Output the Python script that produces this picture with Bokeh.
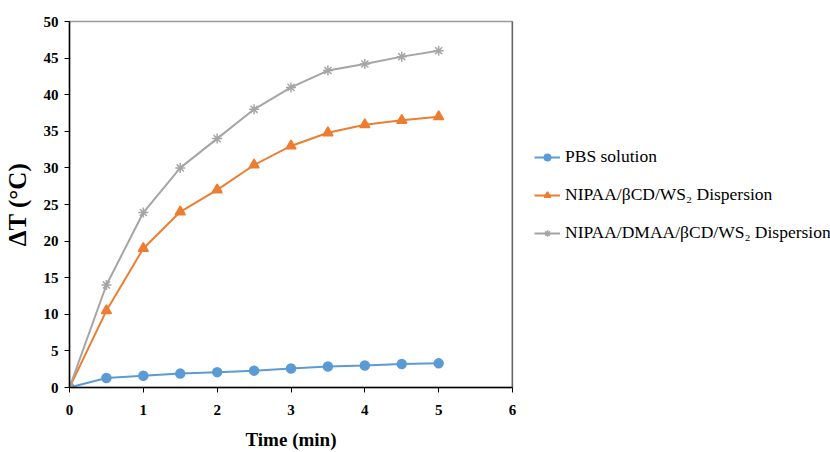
from bokeh.plotting import figure
from bokeh.models import Legend, LegendItem, Range1d, FixedTicker, Span
from bokeh.embed import file_html
from bokeh.resources import INLINE

time_min = [0, 0.5, 1, 1.5, 2, 2.5, 3, 3.5, 4, 4.5, 5]
pbs = [0, 1.3, 1.6, 1.9, 2.1, 2.3, 2.6, 2.87, 3.0, 3.2, 3.3]
nipaa = [0, 10.5, 19.0, 24.0, 27.0, 30.4, 33.0, 34.8, 35.9, 36.5, 37.0]
nipaa_dmaa = [0, 14.0, 23.9, 30.0, 34.0, 38.0, 41.0, 43.3, 44.2, 45.2, 46.0]

names = ["PBS solution", "NIPAA/βCD/WS₂ Dispersion", "NIPAA/DMAA/βCD/WS₂ Dispersion"]
colors = ["#5B9BD5", "#ED7D31", "#A5A5A5"]
x_ticks = [0, 1, 2, 3, 4, 5, 6]
y_ticks = [0, 5, 10, 15, 20, 25, 30, 35, 40, 45, 50]

FONT = "Liberation Serif"

p = figure(frame_width=443, frame_height=366, output_backend="svg", toolbar_location=None,
           x_range=Range1d(0, 6), y_range=Range1d(0, 50),
           min_border_left=63, min_border_top=21, min_border_right=5, min_border_bottom=40)
p.xgrid.visible = False
p.ygrid.visible = False
p.outline_line_color = "#9a9a9a"
p.outline_line_width = 1.5

for ax, ticks in ((p.xaxis[0], x_ticks), (p.yaxis[0], y_ticks)):
    ax.ticker = FixedTicker(ticks=ticks)
    ax.axis_line_color = "black"
    ax.axis_line_width = 1.5
    ax.major_tick_line_color = "black"
    ax.major_tick_in = 0
    ax.major_tick_out = 5
    ax.minor_tick_line_color = None
    ax.major_label_text_font = FONT
    ax.major_label_text_font_style = "bold"
    ax.major_label_text_font_size = "15px"
    ax.major_label_text_color = "black"
    ax.axis_label_text_font = FONT
    ax.axis_label_text_font_style = "bold"
    ax.axis_label_text_color = "black"

p.xaxis[0].axis_label = "Time (min)"
p.xaxis[0].axis_label_text_font_size = "19px"
p.xaxis[0].axis_label_standoff = 11
p.xaxis[0].major_label_standoff = 12
p.yaxis[0].axis_label = "ΔT (°C)"
p.yaxis[0].axis_label_text_font_size = "25px"
p.yaxis[0].axis_label_standoff = 10
p.yaxis[0].major_label_standoff = 6

p.add_layout(Span(location=6, dimension="height", line_color="#333333", line_width=1.5))

series = [pbs, nipaa, nipaa_dmaa]
markers = ["circle", "triangle", "asterisk"]
sizes = [9, 10, 10]
renderers = []
for ys, c, m, s in zip(series, colors, markers, sizes):
    l = p.line(time_min, ys, line_color=c, line_width=2)
    sc = p.scatter(time_min, ys, marker=m, size=s, fill_color=c, line_color=c, line_width=1.5)
    renderers.append([l, sc])

items = [LegendItem(label=n, renderers=rs) for n, rs in zip(names, renderers)]
lg = Legend(items=items, location=(22, 144), orientation="vertical",
            background_fill_alpha=0, border_line_color=None,
            label_text_font=FONT, label_text_font_size="17.5px", label_text_color="black",
            glyph_width=26, glyph_height=16, spacing=17, padding=0, margin=0,
            label_standoff=5)
p.add_layout(lg, "right")

open("out.html", "w").write(file_html(p, INLINE))
